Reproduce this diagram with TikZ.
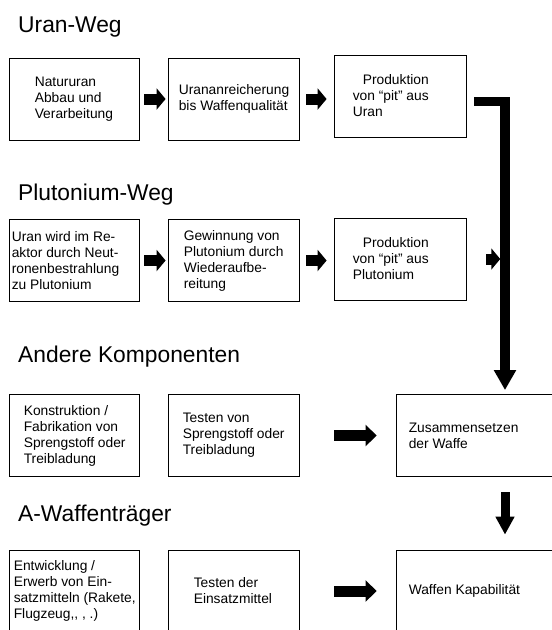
\documentclass[tikz,border=0pt]{standalone}
\usepackage{fontspec}
\setmainfont{Liberation Sans}
\usetikzlibrary{positioning,arrows.meta}

\begin{document}
\begin{tikzpicture}[x=1pt, y=-1pt,
    box/.style={rectangle, minimum width=130pt, minimum height=82pt, draw=black, line width=0.8pt},
    wide/.style={box, minimum width=170pt},
    txt/.style={inner sep=0pt, align=left, font=\fontsize{13.8}{16}\selectfont},
    title/.style={inner sep=0pt, anchor=base west, font=\fontsize{22.8}{27}\selectfont},
    blk/.style={line width=11pt, -{Triangle[length=9pt, width=21pt]}},
    longblk/.style={line width=11pt, -{Triangle[length=11pt, width=21pt]}},
    bar/.style={line width=9.5pt, line join=miter, -{Triangle[length=20pt, width=21pt]}},
    dwn/.style={line width=9pt, -{Triangle[length=18pt, width=18pt]}}]
    \path[use as bounding box, fill=white] (0,0) rectangle (552,630);
    \clip (0,0) rectangle (552,630);

    % Uran-Weg
    \node[title] (t1) at (18,32) {Uran-Weg};
    \node[box] (u1) at (74,99) {};
    \node[box, minimum width=131pt] (u2) at (233.5,99) {};
    \node[box, minimum width=132pt] (u3) at (400,96) {};
    \node[txt, right=26pt of u1.west] (u1t) {Natururan\\Abbau und\\Verarbeitung};
    \node[txt, right=11pt of u2.west] (u2t) {Urananreicherung\\bis Waffenqualität};
    \node[txt, right=19pt of u3.west] (u3t) {\hspace*{10pt}Produktion\\von “pit” aus\\Uran};

    % Plutonium-Weg
    \node[title] (t2) at (18,200) {Plutonium-Weg};
    \node[box] (p1) at (74,260.5) {};
    \node[box, minimum width=131pt] (p2) at (233.5,260.5) {};
    \node[box, minimum width=132pt] (p3) at (400,259) {};
    \node[txt, right=3pt of p1.west] (p1t) {Uran wird im Re-\\aktor durch Neut-\\ronenbestrahlung\\zu Plutonium};
    \node[txt, right=16pt of p2.west] (p2t) {Gewinnung von\\Plutonium durch\\Wiederaufbe-\\reitung};
    \node[txt, right=19pt of p3.west] (p3t) {\hspace*{10pt}Produktion\\von “pit” aus\\Plutonium};

    % Andere Komponenten
    \node[title] (t3) at (18,362) {Andere Komponenten};
    \node[box] (a1) at (74,435.5) {};
    \node[box, minimum width=131pt] (a2) at (233.5,435.5) {};
    \node[wide] (z) at (481,435.5) {};
    \node[txt, right=15pt of a1.west] (a1t) {Konstruktion /\\Fabrikation von\\Sprengstoff oder\\Treibladung};
    \node[txt, right=15pt of a2.west] (a2t) {Testen von\\Sprengstoff oder\\Treibladung};
    \node[txt, right=13pt of z.west] (zt) {Zusammensetzen\\der Waffe};

    % A-Waffentraeger
    \node[title] (t4) at (18,521) {A-Waffenträger};
    \node[box] (e1) at (74,591) {};
    \node[box, minimum width=131pt] (e2) at (233.5,591) {};
    \node[wide] (w) at (481,591) {};
    \node[txt, right=5pt of e1.west] (e1t) {Entwicklung /\\Erwerb von Ein-\\satzmitteln (Rakete,\\Flugzeug,{}, , .)};
    \node[txt, right=26pt of e2.west] (e2t) {Testen der\\Einsatzmittel};
    \node[txt, right=13pt of w.west] (wt) {Waffen Kapabilität};

    \coordinate (knick) at (505,101.5);

    \draw[blk, shorten <=5pt, shorten >=2pt] (u1.east) -- (u2.west);
    \draw[blk, shorten <=7pt, shorten >=7pt] (u2.east) -- (u2.east -| u3.west);
    \draw[blk, shorten <=5pt, shorten >=2pt] (p1.east) -- (p2.west);
    \draw[blk, shorten <=7pt, shorten >=7pt] (p2.east) -- (p2.east -| p3.west);
    \draw[blk, shorten <=20pt, shorten >=4.75pt] (p3.east) -- (p3.east -| knick);
    \draw[bar, shorten <=8pt, shorten >=4pt] (u3.east |- knick) -- (knick) -- (knick |- z.north);
    \draw[longblk, shorten <=35pt, shorten >=19pt] (a2.east) -- (z.west);
    \draw[longblk, shorten <=35pt, shorten >=19pt] (e2.east) -- (w.west);
    \draw[dwn, shorten <=15.5pt, shorten >=15pt] (z.south -| knick) -- (w.north -| knick);
  \end{tikzpicture}
\end{document}
